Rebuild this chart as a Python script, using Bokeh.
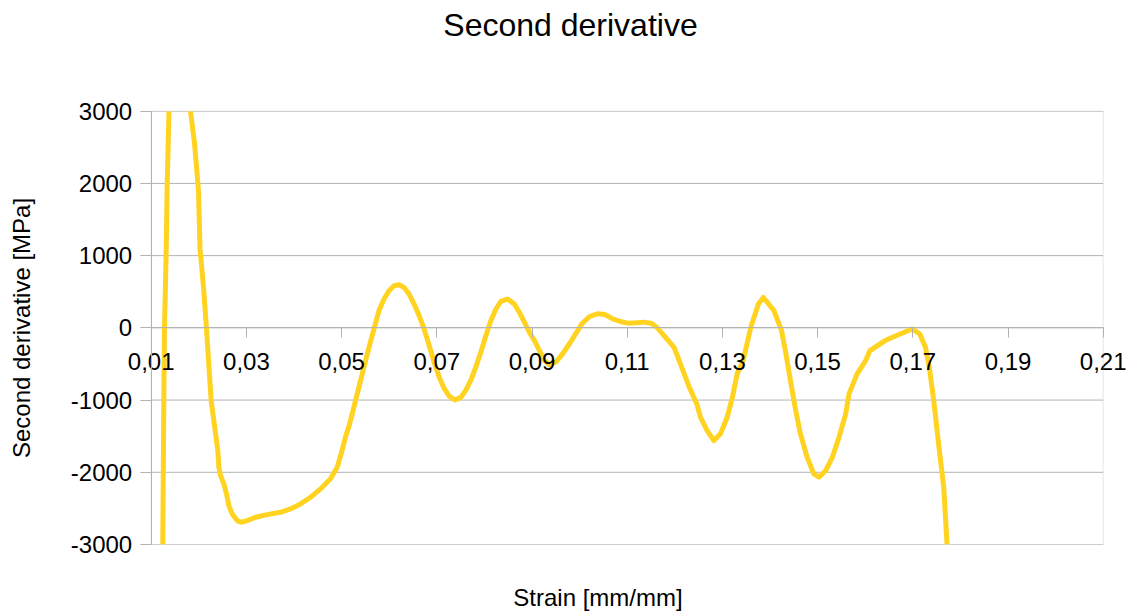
from bokeh.plotting import figure
from bokeh.models import (FixedTicker, CustomJSTickFormatter, Range1d,
                          BoxAnnotation, Label)
from bokeh.embed import file_html
from bokeh.resources import INLINE

# Strain [mm/mm] and second derivative of stress [MPa]
strain = [
    0.01240, 0.01265, 0.01279, 0.01315, 0.01336, 0.01374, 0.01420, 0.01500,
    0.01600, 0.01700, 0.01826, 0.01911, 0.01994, 0.02025, 0.02060, 0.02100,
    0.02160, 0.02260, 0.02400, 0.02421, 0.02456, 0.02526, 0.02582, 0.02631,
    0.02701, 0.02807, 0.02891, 0.03017, 0.03191, 0.03437, 0.03716, 0.03926,
    0.04137, 0.04347, 0.04557, 0.04767, 0.04908, 0.05014, 0.05084, 0.05154,
    0.05225, 0.05295, 0.05400, 0.05505, 0.05596, 0.05681, 0.05786, 0.05891,
    0.05996, 0.06102, 0.06207, 0.06312, 0.06418, 0.06523, 0.06628, 0.06733,
    0.06839, 0.06944, 0.07049, 0.07154, 0.07260, 0.07379, 0.07505, 0.07611,
    0.07716, 0.07821, 0.07926, 0.08032, 0.08137, 0.08242, 0.08347, 0.08488,
    0.08628, 0.08733, 0.08839, 0.08944, 0.09049, 0.09154, 0.09260, 0.09365,
    0.09505, 0.09646, 0.09786, 0.10048, 0.10210, 0.10371, 0.10532, 0.10694,
    0.10855, 0.11016, 0.11177, 0.11339, 0.11500, 0.11621, 0.11742, 0.11863,
    0.11984, 0.12065, 0.12145, 0.12226, 0.12306, 0.12460, 0.12540, 0.12680,
    0.12820, 0.12960, 0.13100, 0.13210, 0.13310, 0.13435, 0.13597, 0.13758,
    0.13860, 0.14080, 0.14242, 0.14323, 0.14430, 0.14540, 0.14640, 0.14780,
    0.14920, 0.15030, 0.15170, 0.15310, 0.15450, 0.15590, 0.15660, 0.15830,
    0.16010, 0.16100, 0.16419, 0.16661, 0.16823, 0.16984, 0.17145, 0.17266,
    0.17347, 0.17440, 0.17550, 0.17650, 0.17720, 0.17760,
]
second_derivative = [
    -3300, -1007, 0, 1070, 2000, 3000, 3900, 4300,
    4400, 4000, 3000, 2550, 1900, 1100, 850, 550,
    0, -1007, -1699, -1930, -2046, -2161, -2299, -2461,
    -2576, -2669, -2692, -2669, -2623, -2586, -2554, -2507,
    -2438, -2346, -2230, -2091, -1931, -1688, -1505, -1367,
    -1183, -1000, -725, -450, -220, -14, 239, 399,
    514, 583, 596, 560, 468, 330, 170, -14,
    -243, -472, -679, -839, -945, -1000, -963, -862,
    -725, -541, -335, -106, 101, 261, 367, 399,
    330, 216, 78, -60, -174, -312, -450, -509,
    -472, -358, -220, 56, 157, 194, 185, 125,
    88, 65, 69, 79, 65, 9, -83, -176,
    -269, -407, -546, -685, -824, -1050, -1238, -1422,
    -1561, -1468, -1238, -961, -637, -454, 9, 333,
    420, 241, -37, -315, -730, -1145, -1468, -1792,
    -2022, -2069, -1976, -1792, -1515, -1191, -914, -637,
    -453, -315, -176, -106, -60, -14, -83, -269,
    -546, -1007, -1654, -2208, -3000, -3400,
]

x_ticks = [0.01, 0.03, 0.05, 0.07, 0.09, 0.11, 0.13, 0.15, 0.17, 0.19, 0.21]
y_ticks = [-3000, -2000, -1000, 0, 1000, 2000, 3000]
x_min, x_max = 0.01, 0.21
y_min, y_max = -3000, 3000

FONT = "Liberation Sans"
GRID = "#b3b3b3"
W, H = 1135, 613

# The frame covers the whole canvas; the plot area inside it runs
# from x=150.7 to 1102.7 px and from y=110.7 to 544 px.
area_left, area_right = 150.7, 1102.7
area_top, area_bottom = 110.7, 544.0
kx = (x_max - x_min) / (area_right - area_left)
ky = (y_max - y_min) / (area_bottom - area_top)
y_lo = y_min - (H - area_bottom) * ky
y_hi = y_max + area_top * ky

p = figure(
    width=W, height=H,
    output_backend="svg", toolbar_location=None,
    x_range=Range1d(x_min - area_left * kx, x_max + (W - area_right) * kx),
    y_range=Range1d(y_lo, y_hi),
    min_border=0, title_location=None,
)
p.background_fill_color = "white"
p.border_fill_color = "white"
p.outline_line_color = None
p.xgrid.visible = False
p.ygrid.visible = False

# horizontal grid lines across the plot area
p.segment(x0=[x_min] * len(y_ticks), y0=y_ticks,
          x1=[x_max] * len(y_ticks), y1=y_ticks,
          line_color=GRID, line_width=1)

p.line(strain, second_derivative, line_color="#ffd320", line_width=5,
       line_join="round", line_cap="round")

# keep the curve inside the plot area
span = y_hi - y_lo
p.add_layout(BoxAnnotation(left=x_min, right=x_max, bottom=y_max, top=y_hi + span,
                           fill_color="white", fill_alpha=1, line_color=None))
p.add_layout(BoxAnnotation(left=x_min, right=x_max, bottom=y_lo - span, top=y_min,
                           fill_color="white", fill_alpha=1, line_color=None))
# plot area border
p.add_layout(BoxAnnotation(left=x_min, right=x_max, bottom=y_min, top=y_max,
                           fill_alpha=0, line_color=GRID, line_width=1))

# x axis crosses the y axis at zero
xa = p.xaxis[0]
xa.fixed_location = 0
xa.bounds = (x_min, x_max)
xa.ticker = FixedTicker(ticks=x_ticks)
xa.formatter = CustomJSTickFormatter(code="return tick.toFixed(2).replace('.', ',');")
xa.major_tick_in = 0
xa.major_tick_out = 10
xa.minor_tick_line_color = None
xa.axis_line_color = GRID
xa.major_tick_line_color = GRID
xa.major_label_text_font = FONT
xa.major_label_text_font_size = "24px"
xa.major_label_text_color = "black"
xa.major_label_standoff = 15

ya = p.yaxis[0]
ya.fixed_location = x_min
ya.bounds = (y_min, y_max)
ya.ticker = FixedTicker(ticks=y_ticks)
ya.formatter = CustomJSTickFormatter(code="return tick.toFixed(0);")
ya.major_tick_in = 0
ya.major_tick_out = 11
ya.minor_tick_line_color = None
ya.axis_line_color = GRID
ya.major_tick_line_color = GRID
ya.major_label_text_font = FONT
ya.major_label_text_font_size = "24px"
ya.major_label_text_color = "black"
ya.major_label_standoff = 8
ya.axis_label = "Second derivative [MPa]"
ya.axis_label_text_font = FONT
ya.axis_label_text_font_size = "24px"
ya.axis_label_text_font_style = "normal"
ya.axis_label_text_color = "black"
ya.axis_label_standoff = 33

p.add_layout(Label(x=570, y=H - 24, x_units="screen", y_units="screen",
                   text="Second derivative", text_align="center",
                   text_baseline="middle", text_font=FONT,
                   text_font_size="32px", text_color="black"))
p.add_layout(Label(x=597.5, y=H - 597, x_units="screen", y_units="screen",
                   text="Strain [mm/mm]", text_align="center",
                   text_baseline="middle", text_font=FONT,
                   text_font_size="24px", text_color="black"))

open("out.html", "w").write(file_html(p, INLINE))
